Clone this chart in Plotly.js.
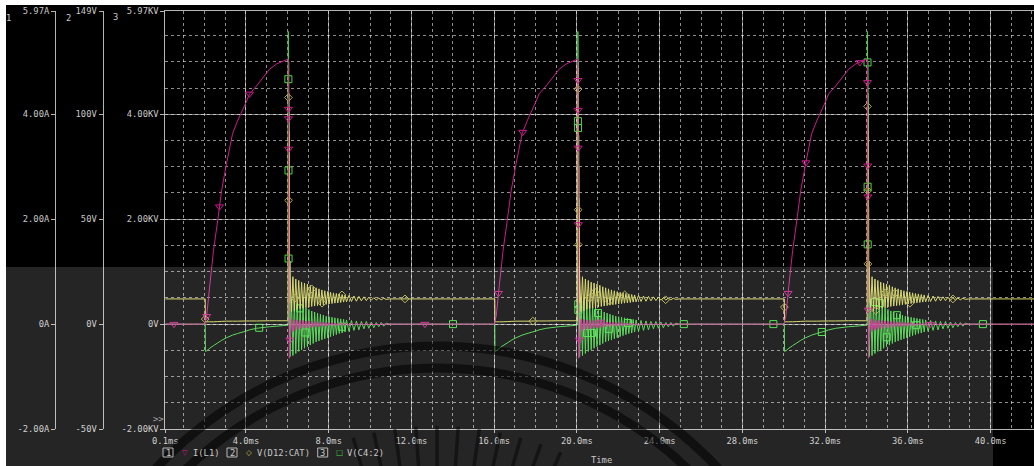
<!DOCTYPE html>
<html>
<head>
<meta charset="utf-8">
<script src="https://cdn.plot.ly/plotly-3.0.1.min.js"></script>
<style>
  html, body { margin: 0; padding: 0; background: #ffffff; overflow: hidden; }
  #plot { width: 1034px; height: 466px; }
</style>
</head>
<body>
<div id="plot"></div>
<script>
// ---- Transient run: flyback charge / discharge events -------------------
const simStart = 0.1;             // ms
const simEnd = 42.1;              // ms
const pulseStart = [2.03, 16.03, 30.03];   // ms, start of each charging ramp

// Quiet levels between events
const restI = 0;       // A
const restVd = 12.0;   // V
const restVc = 0;      // kV

// One event, time measured from the start of its ramp (ms)
const eventT = [
  0, 0.01, 0.07, 0.22, 0.40, 0.60, 0.79, 1.03, 1.32, 1.56, 2.00, 2.14, 2.48, 3.11, 3.45, 3.98,
  4.010, 4.016, 4.022, 4.028, 4.034, 4.040, 4.046, 4.052, 4.058, 4.064, 4.072, 4.080, 4.090,
  4.10, 4.17, 4.24, 4.31, 4.38, 4.45, 4.52, 4.59, 4.66, 4.73,
  4.80, 4.87, 4.94, 5.01, 5.08, 5.15, 5.22, 5.29, 5.36, 5.43,
  5.50, 5.57, 5.64, 5.71, 5.78, 5.85, 5.92, 5.99, 6.06, 6.13,
  6.20, 6.27, 6.34, 6.41, 6.48, 6.55, 6.62, 6.69, 6.76, 6.83,
  6.95, 7.07, 7.19, 7.31, 7.43, 7.55, 7.67, 7.79, 7.91, 8.03,
  8.15, 8.27, 8.39, 8.51, 8.63, 8.75,
  8.90
];
// I(L1), A
const eventI = [
  0, 0.05, 0.15, 0.74, 1.40, 1.97, 2.54, 3.06, 3.63, 3.87, 4.25, 4.39, 4.54, 4.86, 4.96, 5.05,
  5.05, 4.90, 4.40, 3.70, 2.90, 2.00, 1.10, 0.20, -0.40, -0.65, -0.55, -0.45, -0.38,
  -0.30, 0.10, -0.14, 0.09, -0.11, 0.08, -0.10, 0.07, -0.09, 0.07,
  -0.08, 0.06, -0.07, 0.06, -0.07, 0.05, -0.06, 0.05, -0.05, 0.04,
  -0.05, 0.04, -0.04, 0.04, -0.04, 0.03, -0.04, 0.03, -0.03, 0.03,
  -0.03, 0.02, -0.03, 0.02, -0.02, 0.02, -0.02, 0.02, -0.02, 0.01,
  -0.02, 0.01, -0.01, 0.01, -0.01, 0.01, -0.01, 0.01, -0.01, 0.01,
  -0.01, 0.00, -0.01, 0.00, 0.00, 0.00,
  0
];
// V(D12:CAT), V
const eventVd = [
  12.0, 1.1, 1.1, 1.1, 1.1, 1.2, 1.3, 1.4, 1.4, 1.4, 1.5, 1.5, 1.5, 1.6, 1.6, 1.6,
  1.6, 108, 122, 62, 104, 48, 92, 30, 75, 18, 55, 10, 30,
  23.0, 6.0, 22.6, 6.3, 21.5, 7.1, 20.8, 7.4, 20.0, 7.6,
  19.6, 7.8, 19.1, 8.1, 18.5, 8.4, 17.8, 8.6, 17.3, 8.8,
  16.8, 9.0, 16.3, 9.2, 15.9, 9.4, 15.5, 9.6, 15.2, 9.8,
  14.9, 10.0, 14.6, 10.1, 14.4, 10.3, 14.1, 10.5, 13.9, 10.6,
  13.7, 10.8, 13.4, 10.9, 13.2, 11.1, 13.0, 11.2, 12.8, 11.4,
  12.6, 11.5, 12.4, 11.6, 12.3, 11.8,
  12.0
];
// V(C4:2), kV
const eventVc = [
  0, -0.52, -0.51, -0.46, -0.41, -0.36, -0.31, -0.26, -0.21, -0.18, -0.13, -0.11, -0.08, -0.05, -0.04, -0.02,
  0.00, 5.58, 5.35, 1.80, 5.00, 0.90, 4.40, 0.40, 3.60, 0.00, 2.40, -0.45, 1.20,
  -0.62, 0.48, -0.60, 0.44, -0.56, 0.40, -0.52, 0.37, -0.49, 0.34,
  -0.46, 0.31, -0.43, 0.28, -0.40, 0.25, -0.37, 0.23, -0.34, 0.21,
  -0.32, 0.19, -0.30, 0.17, -0.28, 0.15, -0.26, 0.14, -0.24, 0.13,
  -0.22, 0.12, -0.20, 0.11, -0.18, 0.10, -0.17, 0.09, -0.15, 0.08,
  -0.14, 0.07, -0.12, 0.06, -0.11, 0.05, -0.09, 0.05, -0.08, 0.04,
  -0.07, 0.03, -0.05, 0.03, -0.04, 0.02,
  0
];

// Symbol markers placed along each trace (absolute time, ms)
const iMarkT  = [0.52, 2.10, 2.72, 4.17, 6.054, 6.056, 6.061, 6.13, 12.65,
                 16.21, 17.38, 20.049, 20.055, 20.061, 20.071, 20.13, 21.15,
                 30.21, 31.07, 33.68, 34.05, 34.063, 34.067, 34.082, 34.41, 37.07];
const iMarkA  = [0, 0.15, 2.24, 4.39, 4.10, 3.92, 3.34, -0.30, 0,
                 0.59, 3.66, 4.65, 4.08, 3.36, 1.90, -0.30, 0.04,
                 0.59, 3.08, 4.99, 4.61, 3.02, 2.43, 0.27, -0.02, 0];
const vdMarkT = [2.03, 6.05, 6.06, 6.37, 7.19, 7.68, 8.64, 11.69,
                 17.87, 20.05, 20.06, 20.07, 20.62, 20.86, 21.58, 22.31, 24.29,
                 30.03, 34.05, 34.06, 34.07, 34.45, 34.89, 35.38, 36.10, 38.18];
const vdMarkV = [2.4, 108, 59, 12.4, 16.7, 10.0, 13.9, 12.0,
                 1.4, 112, 54.5, 37.8, 12.4, 15.3, 11.0, 13.9, 11.6,
                 8.1, 103.8, 63.6, 28.7, 6.5, 14.8, 14.8, 10.0, 12.0];
const vcMarkT = [4.64, 6.05, 6.055, 6.06, 6.61, 6.87, 8.64, 14.01,
                 20.05, 20.055, 20.065, 20.07, 20.49, 20.73, 21.02, 21.55, 22.47, 25.17,
                 29.50, 31.84, 34.05, 34.055, 34.06, 34.41, 34.65, 34.98, 35.47, 36.39, 39.63];
const vcMarkKV = [-0.07, 4.67, 2.93, 1.25, 0.30, -0.16, -0.05, 0,
                  3.87, 3.74, 0.38, 0.27, -0.17, -0.17, 0.21, -0.09, 0.02, 0,
                  0, -0.15, 4.99, 2.62, 1.52, 0.42, 0.40, -0.25, 0.17, -0.02, 0];

// Axis ticks
const timeTicks = [0.1, 4, 8, 12, 16, 20, 24, 28, 32, 36, 40];
const timeTickText = ['0.1ms', '4.0ms', '8.0ms', '12.0ms', '16.0ms', '20.0ms',
                      '24.0ms', '28.0ms', '32.0ms', '36.0ms', '40.0ms'];
const kvTicks = [-2, 0, 2, 4, 5.97];
const kvText  = ['-2.00KV', '0V', '2.00KV', '4.00KV', '5.97KV'];
const vTicks  = [-50, 0, 50, 100, 149.25];
const vText   = ['-50V', '0V', '50V', '100V', '149V'];
const aTicks  = [-2, 0, 2, 4, 5.97];
const aText   = ['-2.00A', '0A', '2.00A', '4.00A', '5.97A'];

// ---- Assemble the full waveforms ----------------------------------------
const t = [simStart], iL1 = [restI], vD12 = [restVd], vC4 = [restVc];
pulseStart.forEach(t0 => {
  eventT.forEach((dt, k) => {
    t.push(+(t0 + dt).toFixed(4));
    iL1.push(eventI[k]);
    vD12.push(eventVd[k]);
    vC4.push(eventVc[k]);
  });
});
t.push(simEnd); iL1.push(restI); vD12.push(restVd); vC4.push(restVc);

const MAG = '#cc1a8e', YEL = '#d4d45c', GRN = '#44d444';
const MONO = 'DejaVu Sans Mono, Liberation Mono, monospace';
const TXT = '#c8c8c8';

const traces = [
  { x: t, y: vD12, yaxis: 'y2', type: 'scatter', mode: 'lines',
    line: { color: YEL, width: 1, simplify: false }, hoverinfo: 'skip' },
  { x: t, y: vC4, yaxis: 'y', type: 'scatter', mode: 'lines',
    line: { color: GRN, width: 1, simplify: false }, hoverinfo: 'skip' },
  { x: t, y: iL1, yaxis: 'y3', type: 'scatter', mode: 'lines',
    line: { color: MAG, width: 1, simplify: false }, hoverinfo: 'skip' },
  { x: vdMarkT, y: vdMarkV, yaxis: 'y2', type: 'scatter', mode: 'markers',
    marker: { symbol: 'diamond-open', size: 6, color: '#b4ac44', line: { width: 1 } }, hoverinfo: 'skip' },
  { x: vcMarkT, y: vcMarkKV, yaxis: 'y', type: 'scatter', mode: 'markers',
    marker: { symbol: 'square-open', size: 7, color: '#3ee03e', line: { width: 1 } }, hoverinfo: 'skip' },
  { x: iMarkT, y: iMarkA, yaxis: 'y3', type: 'scatter', mode: 'markers',
    marker: { symbol: 'triangle-down-open', size: 7, color: MAG, line: { width: 1 } }, hoverinfo: 'skip' }
];

// ---- Page geometry (pixels -> paper) --------------------------------------
const W = 1034, H = 466, MT = 11, MB = 37;
const PH = H - MT - MB;
const px = x => x / W;
const py = y => (H - MB - y) / PH;

const GRID = 'rgba(255,255,255,0.5)';
const MINOR = 'rgba(255,255,255,0.55)';
const AXIS = '#b4b4b4';
const tickFont = { family: MONO, size: 8.8, color: TXT };

// Background panel, lower screen band and its faint emblem
const shapes = [
  { type: 'rect', xref: 'paper', yref: 'paper', layer: 'below',
    x0: px(6), x1: px(W), y0: py(H), y1: py(5), fillcolor: '#000000', line: { width: 0 } },
  { type: 'rect', xref: 'paper', yref: 'paper', layer: 'above',
    x0: px(6), x1: px(993), y0: py(H), y1: py(267), fillcolor: 'rgba(255,255,255,0.145)', line: { width: 0 } }
];
const emblem = { cx: 437, cy: 730 };
[384, 362].forEach(r => {
  shapes.push({ type: 'circle', xref: 'paper', yref: 'paper', layer: 'above',
    x0: px(emblem.cx - r), x1: px(emblem.cx + r), y0: py(emblem.cy + r), y1: py(emblem.cy - r),
    line: { color: 'rgba(0,0,0,0.55)', width: 9 }, fillcolor: 'rgba(0,0,0,0)' });
});
[-16, -12, -8, -4, 0, 4, 8, 12, 16, 20, 24].forEach(a => {
  const rad = a * Math.PI / 180;
  const r1 = 258, r2 = 304;
  shapes.push({ type: 'line', xref: 'paper', yref: 'paper', layer: 'above',
    x0: px(emblem.cx + r1 * Math.sin(rad)), y0: py(emblem.cy - r1 * Math.cos(rad)),
    x1: px(emblem.cx + r2 * Math.sin(rad)), y1: py(emblem.cy - r2 * Math.cos(rad)),
    line: { color: 'rgba(0,0,0,0.45)', width: 3.5 } });
});
// Legend number boxes
[[163, 173], [227, 237], [317.7, 327.7]].forEach(([a, b]) => {
  shapes.push({ type: 'rect', xref: 'paper', yref: 'paper', layer: 'above',
    x0: px(a), x1: px(b), y0: py(457), y1: py(448), line: { color: '#b8b8b8', width: 1 },
    fillcolor: 'rgba(0,0,0,0)' });
});

const note = (text, x, y, color, extra) => Object.assign({
  text, xref: 'paper', yref: 'paper', x: px(x), y: py(y), showarrow: false,
  xanchor: 'center', yanchor: 'middle', font: { family: MONO, size: 8.8, color: color || TXT }
}, extra || {});

const annotations = [
  note('1', 8, 18), note('2', 68, 18), note('3', 115, 17),
  note('&gt;&gt;', 158, 418.5, '#a8a8a8'),
  note('1', 168, 452.5), note('2', 232, 452.5), note('3', 322.7, 452.5),
  note('▽', 185.3, 452.5, MAG, { font: { family: 'DejaVu Sans', size: 7, color: MAG } }),
  note('I(L1)', 206, 452.5),
  note('◇', 248.7, 452.5, YEL, { font: { family: 'DejaVu Sans', size: 7.5, color: '#c8c050' } }),
  note('V(D12:CAT)', 283, 452.5),
  note('□', 339.3, 452.5, GRN, { font: { family: 'DejaVu Sans', size: 7.5, color: GRN } }),
  note('V(C4:2)', 365.5, 452.5),
  note('Time', 601, 460.5)
];

const layout = {
  width: W, height: H, autosize: false,
  margin: { l: 0, r: 0, t: MT, b: MB, pad: 0 },
  paper_bgcolor: '#ffffff',
  plot_bgcolor: 'rgba(0,0,0,0)',
  showlegend: false,
  hovermode: false,
  xaxis: {
    domain: [px(165.3), 1], range: [simStart, simEnd],
    tickmode: 'array', tickvals: timeTicks, ticktext: timeTickText,
    ticks: 'outside', ticklen: 3, tickcolor: AXIS, tickfont: tickFont,
    showgrid: true, gridcolor: GRID, gridwidth: 1,
    minor: { tickmode: 'linear', tick0: 0, dtick: 1, showgrid: true,
             gridcolor: MINOR, griddash: '3px,3px', gridwidth: 1, ticks: '' },
    showline: true, linecolor: AXIS, linewidth: 1, mirror: true,
    zeroline: false, fixedrange: true
  },
  yaxis: {
    range: [-2, 5.97], anchor: 'x',
    tickmode: 'array', tickvals: kvTicks, ticktext: kvText,
    ticks: 'outside', ticklen: 4, tickcolor: AXIS, tickfont: tickFont,
    showgrid: true, gridcolor: GRID, gridwidth: 1,
    minor: { tickmode: 'linear', tick0: 0, dtick: 0.5, showgrid: true,
             gridcolor: MINOR, griddash: '3px,3px', gridwidth: 1, ticks: '' },
    showline: true, linecolor: AXIS, linewidth: 1,
    zeroline: false, fixedrange: true
  },
  yaxis2: {
    range: [-50, 149.25], overlaying: 'y', anchor: 'free', position: px(102.5), side: 'left',
    tickmode: 'array', tickvals: vTicks, ticktext: vText,
    ticks: 'outside', ticklen: 4, tickcolor: AXIS, tickfont: tickFont,
    showgrid: false, showline: true, linecolor: AXIS, linewidth: 1,
    zeroline: false, fixedrange: true
  },
  yaxis3: {
    range: [-2, 5.97], overlaying: 'y', anchor: 'free', position: px(55), side: 'left',
    tickmode: 'array', tickvals: aTicks, ticktext: aText,
    ticks: 'outside', ticklen: 4, tickcolor: AXIS, tickfont: tickFont,
    showgrid: false, showline: true, linecolor: AXIS, linewidth: 1,
    zeroline: false, fixedrange: true
  },
  shapes: shapes,
  annotations: annotations
};

Plotly.newPlot('plot', traces, layout, { staticPlot: true, displayModeBar: false });
</script>
</body>
</html>
